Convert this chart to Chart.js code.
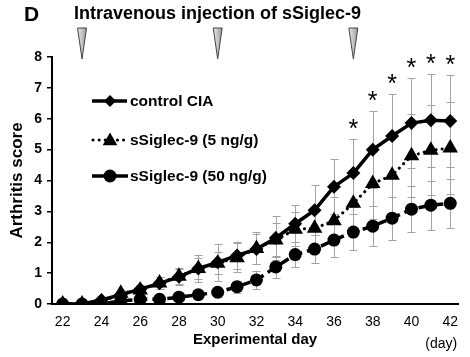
<!DOCTYPE html>
<html>
<head>
<meta charset="utf-8">
<script src="https://cdn.jsdelivr.net/npm/chart.js@4.4.0/dist/chart.umd.min.js"></script>
<style>
html,body{margin:0;padding:0;background:#fff;}
canvas{display:block;}
</style>
</head>
<body>
<canvas id="c" width="470" height="357"></canvas>
<script>
// ---- data ----
const days = [22,23,24,25,26,27,28,29,30,31,32,33,34,35,36,37,38,39,40,41,42];
const controlCIA   = [0,0,0.13,0.3,0.48,0.67,0.88,1.15,1.35,1.57,1.78,2.14,2.6,3.04,3.8,4.24,5.0,5.44,5.86,5.95,5.93];
const controlErr   = [0,0,0.05,0.1,0.15,0.2,0.25,0.45,0.6,0.45,0.5,0.7,0.6,0.8,0.9,1.1,1.25,1.35,1.45,1.5,1.5];
const siglec5      = [0,0,0.05,0.35,0.45,0.68,0.9,1.15,1.32,1.5,1.8,2.07,2.42,2.45,2.7,3.26,3.9,4.17,4.8,4.98,5.05];
const siglec5Err   = [0,0,0,0.1,0.15,0.2,0.25,0.35,0.35,0.47,0.52,0.55,0.55,0.6,0.75,0.95,1.15,1.25,1.35,1.45,1.5];
const siglec50     = [0,0,0,0.1,0.15,0.15,0.22,0.3,0.38,0.56,0.78,1.2,1.6,1.78,2.07,2.33,2.52,2.78,3.07,3.2,3.26];
const siglec50Err  = [0,0,0,0.05,0.05,0.05,0.1,0.12,0.15,0.2,0.3,0.35,0.4,0.45,0.55,0.58,0.65,0.7,0.75,0.8,0.8];
const injectionDays = [23,30,37];
const significantDays = [37,38,39,40,41,42];
const xTickLabels = [22,24,26,28,30,32,34,36,38,40,42];
const yTickLabels = [0,1,2,3,4,5,6,7,8];
const seriesNames = ['control CIA','sSiglec-9 (5 ng/g)','sSiglec-9 (50 ng/g)'];
const titleText = 'Intravenous injection of sSiglec-9';
const panelLabel = 'D';

const FONT = '"Liberation Sans", Arial, sans-serif';
const pts = (vals) => days.map((d,i)=>({x:d,y:vals[i]}));

const seriesErr = [controlErr, siglec5Err, siglec50Err];

const errorBarPlugin = {
  id:'errorBars',
  beforeDatasetsDraw(chart){
    const {ctx, scales:{x,y}} = chart;
    ctx.save();
    ctx.strokeStyle = '#a3a3a3';
    ctx.lineWidth = 1;
    chart.data.datasets.forEach((ds,di)=>{
      const errs = seriesErr[di];
      ds.data.forEach((p,i)=>{
        const e = errs[i];
        if(!e) return;
        const px = Math.round(x.getPixelForValue(p.x))+0.5;
        const yt = y.getPixelForValue(p.y+e);
        const yb = y.getPixelForValue(p.y-e);
        ctx.beginPath();
        ctx.moveTo(px,yt); ctx.lineTo(px,yb);
        ctx.moveTo(px-4,Math.round(yt)+0.5); ctx.lineTo(px+4,Math.round(yt)+0.5);
        ctx.moveTo(px-4,Math.round(yb)+0.5); ctx.lineTo(px+4,Math.round(yb)+0.5);
        ctx.stroke();
      });
    });
    ctx.restore();
  }
};

function drawMarker(ctx, style, cx, cy, r){
  ctx.beginPath();
  if(style==='rectRot'){
    ctx.moveTo(cx,cy-r); ctx.lineTo(cx+r,cy); ctx.lineTo(cx,cy+r); ctx.lineTo(cx-r,cy);
  } else if(style==='triangle'){
    ctx.moveTo(cx,cy-r); ctx.lineTo(cx+r*0.866,cy+r*0.5); ctx.lineTo(cx-r*0.866,cy+r*0.5);
  } else {
    ctx.arc(cx,cy,r,0,Math.PI*2);
  }
  ctx.closePath();
  ctx.fill();
}

const decorPlugin = {
  id:'decor',
  afterDraw(chart){
    const {ctx, scales:{x,y}} = chart;
    ctx.save();
    ctx.fillStyle = '#000';
    // panel label and title
    ctx.textBaseline = 'alphabetic';
    ctx.textAlign = 'left';
    ctx.font = 'bold 21px ' + FONT;
    ctx.fillText(panelLabel, 24, 21);
    ctx.font = 'bold 18px ' + FONT;
    ctx.fillText(titleText, 74, 19);
    // injection arrows
    injectionDays.forEach(d=>{
      const px = x.getPixelForValue(d);
      const g = ctx.createLinearGradient(px-5,0,px+5,0);
      g.addColorStop(0,'#ececec'); g.addColorStop(0.5,'#c4c4c4'); g.addColorStop(1,'#909090');
      ctx.beginPath();
      ctx.moveTo(px-4.5,28); ctx.lineTo(px+4.5,28); ctx.lineTo(px,59); ctx.closePath();
      ctx.fillStyle = g; ctx.fill();
      ctx.strokeStyle = '#444'; ctx.lineWidth = 1; ctx.stroke();
    });
    // significance asterisks
    ctx.fillStyle = '#000';
    ctx.textAlign = 'center';
    ctx.font = '25px ' + FONT;
    significantDays.forEach(d=>{
      const i = days.indexOf(d);
      const top = y.getPixelForValue(controlCIA[i] + controlErr[i]);
      const cy = Math.max(top - 16, 57);
      ctx.fillText('*', x.getPixelForValue(d), cy + 14);
    });
    // "(day)" unit
    ctx.font = '14px ' + FONT;
    ctx.textAlign = 'center';
    ctx.fillText('(day)', x.getPixelForValue(42) - 9, 348);
    // legend
    const rows = [101,140,176];
    const styles = ['rectRot','triangle','circle'];
    const radii = [6,8.5,6.5];
    ctx.strokeStyle = '#000';
    rows.forEach((ry,i)=>{
      ctx.lineWidth = 3.5;
      ctx.setLineDash([]);
      ctx.lineCap = 'butt';
      ctx.beginPath();
      if(i===0){ ctx.moveTo(92,ry); ctx.lineTo(127,ry); ctx.stroke(); }
      else if(i===1){
        ctx.lineWidth = 3; ctx.lineCap='round'; ctx.setLineDash([0.1,6]);
        ctx.moveTo(93,ry); ctx.lineTo(128,ry); ctx.stroke();
      } else {
        ctx.moveTo(92,ry); ctx.lineTo(106,ry); ctx.moveTo(116,ry); ctx.lineTo(128,ry); ctx.stroke();
      }
      ctx.setLineDash([]);
      ctx.fillStyle = '#000';
      drawMarker(ctx, styles[i], 110, i===1? ry+1 : ry, radii[i]);
      ctx.font = 'bold 15.5px ' + FONT;
      ctx.textAlign = 'left';
      ctx.textBaseline = 'middle';
      ctx.fillText(seriesNames[i], 130, ry+1);
    });
    ctx.restore();
  }
};

new Chart(document.getElementById('c'), {
  type:'line',
  data:{
    datasets:[
      {label:seriesNames[0], data:pts(controlCIA), borderColor:'#000', backgroundColor:'#000',
       borderWidth:3.5, pointStyle:'rectRot', pointRadius:7, pointBorderWidth:0, order:2, tension:0},
      {label:seriesNames[1], data:pts(siglec5), borderColor:'#000', backgroundColor:'#000',
       borderWidth:3, borderDash:[0.1,6], borderCapStyle:'round', pointStyle:'triangle', pointRadius:9, pointBorderWidth:0, order:1, tension:0},
      {label:seriesNames[2], data:pts(siglec50), borderColor:'#000', backgroundColor:'#000',
       borderWidth:3.5, borderDash:[10,5], pointStyle:'circle', pointRadius:6.5, pointBorderWidth:0, order:0, tension:0}
    ]
  },
  options:{
    responsive:false,
    animation:false,
    layout:{padding:{top:57,right:12,left:0,bottom:0}},
    plugins:{legend:{display:false}, tooltip:{enabled:false}},
    scales:{
      x:{
        type:'linear', min:21.45, max:42.4,
        afterBuildTicks(s){ s.ticks = xTickLabels.map(v=>({value:v})); },
        afterFit(s){ s.height = 53; },
        grid:{display:false, drawTicks:false},
        border:{display:true, color:'#000', width:2},
        ticks:{color:'#000', font:{family:FONT, size:14}, padding:10, maxRotation:0, autoSkip:false},
        title:{display:true, text:'Experimental day', color:'#000', font:{family:FONT, size:15, weight:'bold'}, padding:{top:0,bottom:8}}
      },
      y:{
        min:0, max:8,
        afterBuildTicks(s){ s.ticks = yTickLabels.map(v=>({value:v})); },
        afterFit(s){ s.width = 52; },
        grid:{drawOnChartArea:false, drawTicks:true, tickLength:5, color:'#000', lineWidth:1.5},
        border:{display:true, color:'#000', width:2},
        ticks:{color:'#000', font:{family:FONT, size:14, weight:'bold'}, padding:5},
        title:{display:true, text:'Arthritis score', color:'#000', font:{family:FONT, size:17, weight:'bold'}, padding:{top:7,bottom:0}}
      }
    }
  },
  plugins:[errorBarPlugin, decorPlugin]
});
</script>
</body>
</html>
